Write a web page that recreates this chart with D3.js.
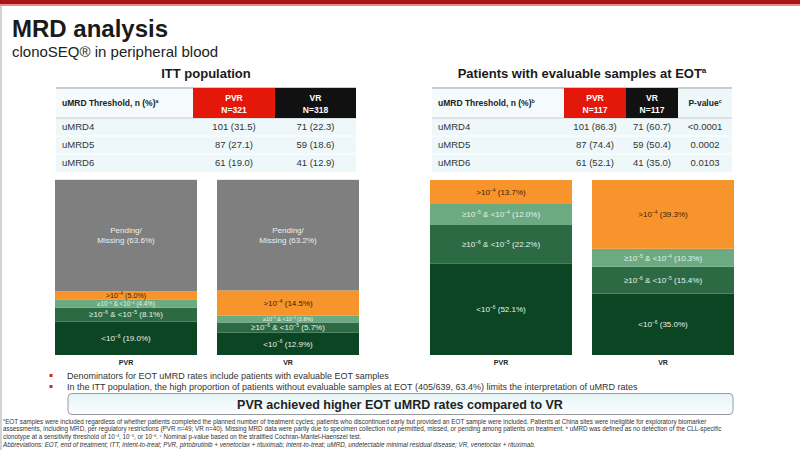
<!DOCTYPE html>
<html>
<head>
<meta charset="utf-8">
<script src="https://cdn.jsdelivr.net/npm/d3@7"></script>
<style>
	body { margin: 0; background: #fff; }
	svg { display: block; font-family: 'Liberation Sans', Arial, sans-serif; }
</style>
</head>
<body>
<div id="chart"></div>
<script>
const thresholds = ['uMRD4', 'uMRD5', 'uMRD6']
const ittPvrN = [101, 87, 61]
const ittPvrPct = [31.5, 27.1, 19.0]
const ittVrN = [71, 59, 41]
const ittVrPct = [22.3, 18.6, 12.9]
const eotPvrN = [101, 87, 61]
const eotPvrPct = [86.3, 74.4, 52.1]
const eotVrN = [71, 59, 41]
const eotVrPct = [60.7, 50.4, 35.0]
const pValues = ['<0.0001', '0.0002', '0.0103']

const arms = ['PVR', 'VR']
const segmentKeys = ['lt6', 'r65', 'r54', 'gt4', 'pending']
const segmentLabels = ['<10^-6', '≥10^-6 & <10^-5', '≥10^-5 & <10^-4', '>10^-4', 'Pending/|Missing']
const segmentColors = ['#0c4524', '#2c6a44', '#6caa82', '#f7952c', '#7f7f7f']
const ittPvrSeg = [19.0, 8.1, 4.4, 5.0, 63.6]
const ittVrSeg = [12.9, 5.7, 3.8, 14.5, 63.2]
const eotPvrSeg = [52.1, 22.2, 12.0, 13.7]
const eotVrSeg = [35.0, 15.4, 10.3, 39.3]

const W = 800, H = 450
const pct = d3.format('.1f')

const svg = d3.select('#chart').append('svg').attr('width', W).attr('height', H)
const defs = svg.append('defs')
const grad = defs.append('linearGradient').attr('id', 'boxGrad').attr('x1', 0).attr('x2', 0).attr('y1', 0).attr('y2', 1)
grad.append('stop').attr('offset', 0).attr('stop-color', '#e6f5f7')
grad.append('stop').attr('offset', 1).attr('stop-color', '#fbfefe')

// slide frame
svg.append('rect').attr('x', 0).attr('y', 0).attr('width', W).attr('height', 4).attr('fill', '#a8161a')
svg.append('rect').attr('x', 0).attr('y', 4).attr('width', W).attr('height', 2).attr('fill', '#ee8a8a')
svg.append('line').attr('x1', 1).attr('x2', 1).attr('y1', 6).attr('y2', H).attr('stroke', '#c4c4c4').attr('stroke-width', 1.5)

svg.append('text').attr('x', 12).attr('y', 37).attr('font-size', 24).attr('font-weight', 'bold').attr('fill', '#1a1a1a').text('MRD analysis')
svg.append('text').attr('x', 12).attr('y', 57).attr('font-size', 15).attr('fill', '#222').text('clonoSEQ® in peripheral blood')

// appends text with ^-n parts drawn as superscripts
function richText(sel, str, fs) {
	const parts = str.split(/(\^-?\w)/)
	let shifted = false
	parts.forEach((p) => {
		if (!p) return
		if (p[0] === '^') {
			sel.append('tspan').attr('font-size', fs * 0.62).attr('dy', -fs * 0.38).text(p.slice(1).replace('-', '−'))
			shifted = true
		} else {
			const t = sel.append('tspan').text(p)
			if (shifted) t.attr('dy', fs * 0.38)
			shifted = false
		}
	})
}

function drawTable(x0, title, colX, header, rows) {
	const g = svg.append('g')
	const x1 = colX[colX.length - 1]
	g.append('text').attr('x', (x0 + x1) / 2).attr('y', 78).attr('text-anchor', 'middle')
		.attr('font-size', 13).attr('font-weight', 'bold').attr('fill', '#1a1a1a')
		.call((t) => richText(t, title, 13))

	const y = d3.scaleBand().domain(d3.range(rows.length)).range([118, 172])
	g.append('rect').attr('x', x0).attr('y', 88).attr('width', x1 - x0).attr('height', 84).attr('fill', '#eef8fa')
	g.append('rect').attr('x', x0).attr('y', 88).attr('width', colX[0] - x0).attr('height', 30).attr('fill', '#f5fbfc')
	g.append('line').attr('x1', x0).attr('x2', x1).attr('y1', 88).attr('y2', 88).attr('stroke', '#c9cccd').attr('stroke-width', 2)
	g.append('line').attr('x1', x0).attr('x2', x1).attr('y1', 118).attr('y2', 118).attr('stroke', '#c9cccd').attr('stroke-width', 1)
	g.selectAll('.sep').data(d3.range(1, rows.length)).join('line')
		.attr('x1', x0).attr('x2', x1).attr('y1', (i) => y(i)).attr('y2', (i) => y(i))
		.attr('stroke', '#ffffff').attr('stroke-width', 1)

	g.append('text').attr('x', x0 + 6).attr('y', 106).attr('font-size', 8.5).attr('font-weight', 'bold').attr('fill', '#222')
		.call((t) => richText(t, header.label, 8.5))

	header.cols.forEach((c, i) => {
		const cx = (colX[i] + colX[i + 1]) / 2
		if (c.fill) g.append('rect').attr('x', colX[i]).attr('y', 88).attr('width', colX[i + 1] - colX[i]).attr('height', 30).attr('fill', c.fill)
		const lines = c.text.split('|')
		lines.forEach((ln, j) => {
			g.append('text').attr('x', cx).attr('y', lines.length > 1 ? 101 + j * 12 : 106).attr('text-anchor', 'middle')
				.attr('font-size', 8.5).attr('font-weight', 'bold').attr('fill', c.fill ? '#fff' : '#222')
				.call((t) => richText(t, ln, 8.5))
		})
	})

	rows.forEach((r, i) => {
		const cy = y(i) + y.bandwidth() / 2 + 3.3
		g.append('text').attr('x', x0 + 6).attr('y', cy).attr('font-size', 9.5).attr('fill', '#333').text(thresholds[i])
		r.forEach((v, j) => {
			g.append('text').attr('x', (colX[j] + colX[j + 1]) / 2).attr('y', cy).attr('text-anchor', 'middle')
				.attr('font-size', 9.5).attr('fill', '#333').text(v)
		})
	})
}

drawTable(56, 'ITT population', [193, 275, 356],
	{ label: 'uMRD Threshold, n (%)^a', cols: [{ text: 'PVR|N=321', fill: '#e3170a' }, { text: 'VR|N=318', fill: '#111111' }] },
	thresholds.map((_, i) => [ittPvrN[i] + ' (' + pct(ittPvrPct[i]) + ')', ittVrN[i] + ' (' + pct(ittVrPct[i]) + ')']))

drawTable(432, 'Patients with evaluable samples at EOT^a', [564, 626, 678, 732],
	{ label: 'uMRD Threshold, n (%)^b', cols: [{ text: 'PVR|N=117', fill: '#e3170a' }, { text: 'VR|N=117', fill: '#111111' }, { text: 'P-value^c' }] },
	thresholds.map((_, i) => [eotPvrN[i] + ' (' + pct(eotPvrPct[i]) + ')', eotVrN[i] + ' (' + pct(eotVrPct[i]) + ')', pValues[i]]))

// stacked bars
const y = d3.scaleLinear().domain([0, 100]).range([355, 180])

function drawBars(xRange, pvr, vr) {
	const keys = segmentKeys.slice(0, pvr.length)
	const data = [pvr, vr].map((vals, i) => {
		const row = { arm: arms[i] }
		keys.forEach((k, j) => (row[k] = vals[j]))
		return row
	})
	const x = d3.scaleBand().domain(arms).range(xRange).paddingInner(20 / 162)
	const series = d3.stack().keys(keys)(data)
	const g = svg.append('g')

	const layer = g.selectAll('g.layer').data(series).join('g').attr('class', 'layer')
		.attr('fill', (d) => segmentColors[segmentKeys.indexOf(d.key)])
	layer.selectAll('rect').data((d) => d).join('rect')
		.attr('x', (d) => x(d.data.arm))
		.attr('width', x.bandwidth())
		.attr('y', (d) => y(d[1]))
		.attr('height', (d) => y(d[0]) - y(d[1]))

	series.forEach((s) => {
		const ki = segmentKeys.indexOf(s.key)
		s.forEach((d) => {
			const h = y(d[0]) - y(d[1])
			const cx = x(d.data.arm) + x.bandwidth() / 2
			const cy = (y(d[0]) + y(d[1])) / 2
			const v = d[1] - d[0]
			const fs = Math.min(8, h * 0.82)
			const fill = s.key === 'gt4' ? '#3b2006' : s.key === 'pending' ? '#eeeeee' : '#e9f1eb'
			const lines = (segmentLabels[ki] + ' (' + pct(v) + '%)').split('|')
			lines.forEach((ln, j) => {
				g.append('text').attr('x', cx).attr('text-anchor', 'middle')
					.attr('y', cy + fs * 0.35 + (j - (lines.length - 1) / 2) * fs * 1.25)
					.attr('font-size', fs).attr('fill', fill)
					.call((t) => richText(t, ln, fs))
			})
		})
	})

	const axis = g.append('g').attr('transform', 'translate(0,355)')
		.call(d3.axisBottom(x).tickSize(0).tickPadding(5))
	axis.select('.domain').remove()
	axis.selectAll('text').attr('font-size', 7).attr('font-weight', 'bold').attr('fill', '#222')
		.attr('font-family', "'Liberation Sans', Arial, sans-serif")
}

drawBars([55, 359], ittPvrSeg, ittVrSeg)
drawBars([430, 734], eotPvrSeg, eotVrSeg)

// bullets
const bullets = [
	'Denominators for EOT uMRD rates include patients with evaluable EOT samples',
	'In the ITT population, the high proportion of patients without evaluable samples at EOT (405/639, 63.4%) limits the interpretation of uMRD rates'
]
bullets.forEach((b, i) => {
	const by = 378.5 + i * 11
	svg.append('rect').attr('x', 49.5).attr('y', by - 4.5).attr('width', 3).attr('height', 3).attr('fill', '#d6262a')
	svg.append('text').attr('x', 67).attr('y', by).attr('font-size', 9).attr('fill', '#333').text(b)
})

svg.append('rect').attr('x', 68).attr('y', 393.5).attr('width', 665).attr('height', 21).attr('rx', 4)
	.attr('fill', 'url(#boxGrad)').attr('stroke', '#9a9a9a').attr('stroke-width', 1)
svg.append('text').attr('x', 400).attr('y', 408.5).attr('text-anchor', 'middle').attr('font-size', 12.5)
	.attr('font-weight', 'bold').attr('fill', '#222').text('PVR achieved higher EOT uMRD rates compared to VR')

// footnotes
const footnotes = [
	'^aEOT samples were included regardless of whether patients completed the planned number of treatment cycles; patients who discontinued early but provided an EOT sample were included. Patients at China sites were ineligible for exploratory biomarker',
	'assessments, including MRD, per regulatory restrictions (PVR n=49; VR n=40). Missing MRD data were partly due to specimen collection not permitted, missed, or pending among patients on treatment. ^b uMRD was defined as no detection of the CLL-specific',
	'clonotype at a sensitivity threshold of 10^-4, 10^-5, or 10^-6. ^c Nominal p-value based on the stratified Cochran-Mantel-Haenszel test.',
	'Abbreviations: EOT, end of treatment; ITT, intent-to-treat; PVR, pirtobrutinib + venetoclax + rituximab; intent-to-treat; uMRD, undetectable minimal residual disease; VR, venetoclax + rituximab.'
]
footnotes.forEach((f, i) => {
	svg.append('text').attr('x', 3).attr('y', 423.5 + i * 7.8).attr('font-size', 6.3)
		.attr('fill', '#333').attr('font-style', i === 3 ? 'italic' : 'normal')
		.call((t) => richText(t, f, 6.3))
})
</script>
</body>
</html>
